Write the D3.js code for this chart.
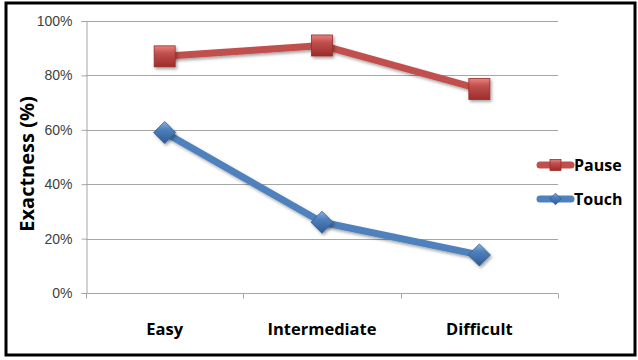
<!DOCTYPE html>
<html>
<head>
<meta charset="utf-8">
<script src="https://cdn.jsdelivr.net/npm/d3@7"></script>
<style>
  html, body { margin: 0; padding: 0; background: #fff; }
  svg { display: block; font-family: "Open Sans", "Noto Sans", sans-serif; }
</style>
</head>
<body>
<svg id="chart" width="638" height="360"></svg>
<script>
// Accuracy per difficulty level for the two interaction modes
const categories = ["Easy", "Intermediate", "Difficult"];
const pauseValues = [0.87, 0.91, 0.75];
const touchValues = [0.59, 0.26, 0.14];
const yTicks = [0, 0.2, 0.4, 0.6, 0.8, 1.0];
const seriesNames = ["Pause", "Touch"];

const series = [
  { name: seriesNames[0], values: pauseValues, color: "#C0504D", light: "#E8827F", dark: "#9B2C2A", shape: "square" },
  { name: seriesNames[1], values: touchValues, color: "#4F81BD", light: "#8DB3E2", dark: "#2E5C93", shape: "diamond" }
];

const svg = d3.select("#chart");
const plot = { left: 86, right: 558, top: 21, bottom: 293 };

const x = d3.scaleBand().domain(categories).range([plot.left, plot.right]);
const y = d3.scaleLinear().domain([0, 1]).range([plot.bottom, plot.top]);

const defs = svg.append("defs");
const shadow = defs.append("filter").attr("id", "shadow")
  .attr("x", "-50%").attr("y", "-50%").attr("width", "200%").attr("height", "200%");
shadow.append("feDropShadow").attr("dx", 1.5).attr("dy", 2).attr("stdDeviation", 1.5)
  .attr("flood-color", "#000").attr("flood-opacity", 0.35);

series.forEach((s, i) => {
  const g = defs.append("linearGradient").attr("id", "grad" + i)
    .attr("x1", 0).attr("y1", 0).attr("x2", 0).attr("y2", 1);
  g.append("stop").attr("offset", "0%").attr("stop-color", s.light);
  g.append("stop").attr("offset", "35%").attr("stop-color", s.color);
  g.append("stop").attr("offset", "100%").attr("stop-color", s.dark);
});

// Outer frame
svg.append("rect")
  .attr("x", 6).attr("y", 3).attr("width", 629).attr("height", 352)
  .attr("fill", "none").attr("stroke", "#000").attr("stroke-width", 3);

// Horizontal gridlines
svg.append("g").selectAll("line").data(yTicks.filter(d => d > 0)).join("line")
  .attr("x1", plot.left).attr("x2", plot.right)
  .attr("y1", d => Math.round(y(d)) + 0.5).attr("y2", d => Math.round(y(d)) + 0.5)
  .attr("stroke", "#A6A6A6").attr("stroke-width", 1);

// Y axis
const yAxis = svg.append("g")
  .attr("transform", `translate(${plot.left + 0.5},0)`)
  .call(d3.axisLeft(y).tickValues(yTicks).tickFormat(d3.format(".0%")).tickSize(5).tickPadding(9));
yAxis.select(".domain").attr("stroke", "#A6A6A6");
yAxis.selectAll(".tick line").attr("stroke", "#A6A6A6");
yAxis.selectAll(".tick text").attr("fill", "#404040").style("font-size", "14px");

// X axis with ticks on band boundaries
const xAxisG = svg.append("g").attr("transform", `translate(0,${plot.bottom + 0.5})`);
xAxisG.append("line").attr("x1", plot.left).attr("x2", plot.right)
  .attr("stroke", "#A6A6A6");
const bounds = categories.map(c => x(c)).concat([plot.right]);
xAxisG.selectAll(".xt").data(bounds).join("line").attr("class", "xt")
  .attr("x1", d => Math.round(d) + 0.5).attr("x2", d => Math.round(d) + 0.5)
  .attr("y1", 0).attr("y2", 5).attr("stroke", "#A6A6A6");
xAxisG.selectAll("text").data(categories).join("text")
  .attr("x", d => x(d) + x.bandwidth() / 2).attr("y", 41)
  .attr("text-anchor", "middle").attr("font-weight", "bold")
  .style("font-size", "16.5px").attr("fill", "#000").text(d => d);

// Y axis title
svg.append("text")
  .attr("transform", `translate(34,${(plot.top + plot.bottom) / 2 + 7}) rotate(-90)`)
  .attr("text-anchor", "middle").attr("font-weight", "bold")
  .style("font-size", "20px").attr("fill", "#000").text("Exactness (%)");

const cx = d => x(d) + x.bandwidth() / 2;
const line = d3.line().x(d => cx(d.cat)).y(d => y(d.v));

function marker(sel, s, i, size) {
  const h = size / 2;
  if (s.shape === "square") {
    sel.append("rect").attr("x", -h).attr("y", -h).attr("width", size).attr("height", size)
      .attr("fill", `url(#grad${i})`).attr("stroke", s.dark).attr("stroke-width", 0.8);
  } else {
    const r = h * 1.05;
    sel.append("path").attr("d", `M0,${-r}L${r},0L0,${r}L${-r},0Z`)
      .attr("fill", `url(#grad${i})`).attr("stroke", s.dark).attr("stroke-width", 0.8);
  }
}

series.forEach((s, i) => {
  const pts = s.values.map((v, k) => ({ cat: categories[k], v }));
  svg.append("path").datum(pts)
    .attr("d", line).attr("fill", "none")
    .attr("stroke", s.color).attr("stroke-width", 7)
    .attr("stroke-linejoin", "round").attr("filter", "url(#shadow)");
  svg.append("g").selectAll("g").data(pts).join("g")
    .attr("transform", d => `translate(${cx(d.cat)},${y(d.v)})`)
    .attr("filter", "url(#shadow)")
    .each(function () { marker(d3.select(this), s, i, 21); });
});

// Legend
const legend = svg.append("g");
series.forEach((s, i) => {
  const ly = 165 + i * 34;
  const g = legend.append("g").attr("transform", `translate(0,${ly})`);
  g.append("line").attr("x1", 540).attr("x2", 571).attr("y1", 0).attr("y2", 0)
    .attr("stroke", s.color).attr("stroke-width", 7).attr("stroke-linecap", "round");
  const m = g.append("g").attr("transform", "translate(555.5,0)");
  marker(m, s, i, 11);
  g.append("text").attr("x", 574).attr("y", 6)
    .attr("font-weight", "bold").style("font-size", "16px").attr("fill", "#000").text(s.name);
});
</script>
</body>
</html>
